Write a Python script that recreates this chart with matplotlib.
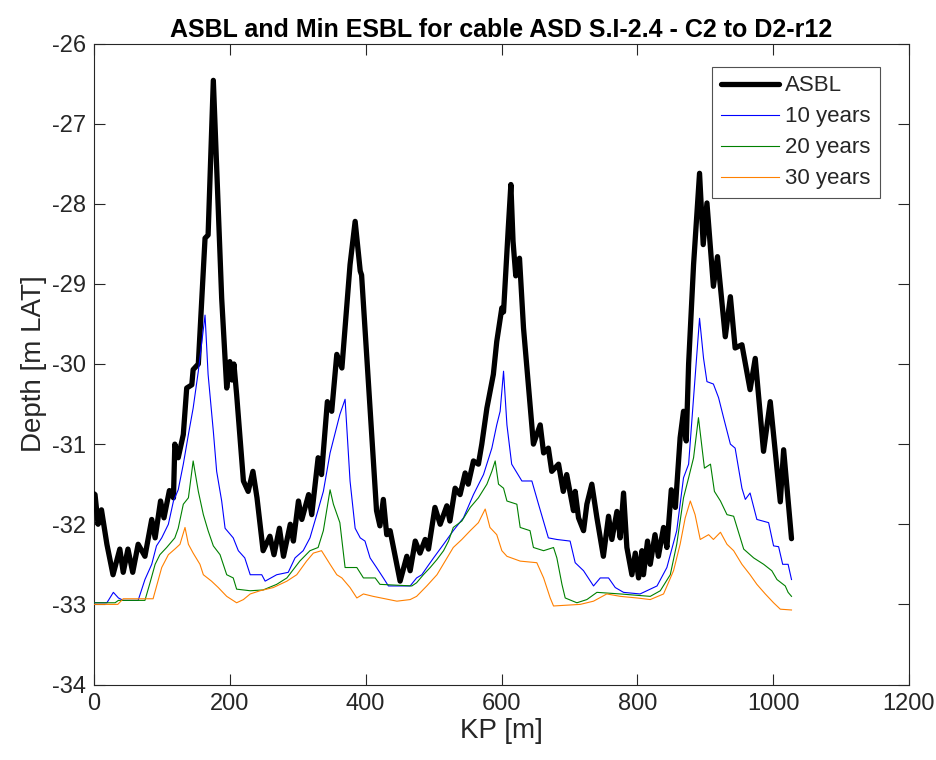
import matplotlib
matplotlib.use("Agg")
import matplotlib.pyplot as plt
from matplotlib import font_manager

names = {f.name for f in font_manager.fontManager.ttflist}
fam = 'Liberation Sans' if 'Liberation Sans' in names else 'DejaVu Sans'
plt.rcParams['font.family'] = [fam, 'DejaVu Sans']

title = "ASBL and Min ESBL for cable ASD S.I-2.4 - C2 to D2-r12"
xlabel = "KP [m]"
ylabel = "Depth [m LAT]"
series_names = ["ASBL", "10 years", "20 years", "30 years"]
xticks = [0, 200, 400, 600, 800, 1000, 1200]
yticks = [-34, -33, -32, -31, -30, -29, -28, -27, -26]

asbl_kp = [0, 1.5, 6, 11, 19, 28, 38, 43, 50, 57, 65, 75, 85, 90, 98, 103, 111, 117, 119, 124,
           131.5, 136.5, 144, 146, 153.6, 163.5, 168, 175.7, 188, 195.4, 200, 203, 206, 210,
           220, 227, 234, 240, 249, 259, 265, 273, 279, 289, 293.6, 301, 306, 316, 320.6, 330,
           335, 343.6, 350, 357.5, 365, 377, 384.5, 392, 394, 416, 421, 426, 431, 436, 443,
           450.7, 460.6, 465.5, 473, 480, 487.6, 492.5, 502, 509.7, 519.5, 524, 531.7, 539,
           546.5, 551, 558.7, 566, 571, 578.5, 588, 593, 600.5, 603, 610, 613.8, 617, 621,
           626.5, 632.4, 647, 657, 662, 669, 674, 684, 691, 696, 706, 708.5, 713.4, 720.8,
           725.7, 733, 740.5, 750, 757.6, 762.5, 770, 774.8, 779.7, 784.6, 792, 797, 801.8,
           806.8, 809, 815, 819, 826, 831, 838.6, 843.5, 850, 856, 863, 868, 872, 875.5,
           882.8, 891.6, 897, 902.5, 912, 918, 929.5, 937, 944, 954, 966, 973.6, 985.8,
           995.7, 1010.5, 1015.4, 1027]
asbl_depth = [-31.62, -31.63, -32.0, -31.82, -32.25, -32.63, -32.31, -32.6, -32.31, -32.6, -32.25,
              -32.4, -31.94, -32.17, -31.71, -31.92, -31.58, -31.67, -31.0, -31.17, -30.88,
              -30.3, -30.26, -30.07, -30.0, -28.43, -28.39, -26.46, -29.18, -30.3, -29.97,
              -30.2, -30.0, -30.38, -31.46, -31.59, -31.34, -31.67, -32.33, -32.15, -32.38,
              -32.05, -32.4, -32.0, -32.21, -31.71, -31.94, -31.63, -31.88, -31.17, -31.38,
              -30.47, -30.59, -29.88, -30.05, -28.76, -28.22, -28.84, -28.89, -31.83, -32.02,
              -31.69, -32.13, -32.08, -32.38, -32.71, -32.4, -32.58, -32.21, -32.36, -32.19,
              -32.31, -31.79, -32.0, -31.77, -31.96, -31.55, -31.63, -31.36, -31.5, -31.21,
              -31.25, -31.0, -30.55, -30.13, -29.72, -29.3, -29.35, -28.3, -27.76, -28.47,
              -28.9, -28.68, -29.55, -31.0, -30.76, -31.11, -31.05, -31.34, -31.25, -31.59,
              -31.38, -31.83, -31.59, -31.92, -32.08, -31.75, -31.5, -31.92, -32.4, -31.9,
              -32.19, -31.84, -32.17, -31.61, -32.29, -32.63, -32.36, -32.67, -32.33, -32.63,
              -32.21, -32.5, -32.13, -32.4, -32.04, -32.29, -31.57, -31.79, -30.92, -30.59,
              -30.96, -30.0, -28.76, -27.62, -28.51, -27.99, -29.03, -28.66, -29.66, -29.16,
              -29.8, -29.76, -30.32, -29.93, -31.09, -30.47, -31.72, -31.07, -32.18]

y10_kp = [0, 19, 28.5, 36, 43, 65, 75, 85, 92, 99.7, 109.5, 117, 124, 131.5, 139, 146, 153.6,
          163.5, 168, 175.7, 180.6, 188, 193, 205, 212.5, 222, 230, 247, 252, 269, 286, 296,
          308, 318, 328, 337.7, 347.6, 362, 369.7, 377, 384.5, 392, 399, 406.5, 416, 426,
          433.5, 465.5, 475, 482.7, 490, 500, 514.7, 529, 544, 558.7, 573.5, 585.8, 593, 598,
          603, 608, 615, 630, 644.7, 654.5, 669, 681.5, 701, 708.5, 720.8, 735.5, 745.4,
          757.6, 767.5, 779.7, 804, 814, 829, 843.5, 858, 868, 875.5, 882.8, 891.6, 897.5,
          902.5, 912, 919.6, 927, 937, 944, 954, 959, 966, 976, 993.3, 1000.6, 1008, 1014,
          1022, 1027]
y10_depth = [-32.98, -32.98, -32.85, -32.92, -32.95, -32.95, -32.69, -32.5, -32.27, -32.17, -32.0,
             -31.71, -31.57, -31.25, -30.88, -30.55, -30.09, -29.39, -30.13, -30.84, -31.34,
             -31.71, -32.05, -32.17, -32.33, -32.42, -32.63, -32.63, -32.71, -32.63, -32.6,
             -32.42, -32.33, -32.17, -31.88, -31.59, -31.11, -30.63, -30.44, -31.46, -32.05,
             -32.17, -32.21, -32.42, -32.54, -32.67, -32.77, -32.77, -32.67, -32.63, -32.54,
             -32.42, -32.25, -32.08, -31.92, -31.63, -31.38, -31.05, -30.76, -30.59, -30.09,
             -30.76, -31.25, -31.46, -31.46, -31.75, -32.17, -32.19, -32.21, -32.48, -32.58,
             -32.77, -32.67, -32.67, -32.79, -32.85, -32.87, -32.83, -32.77, -32.54, -32.08,
             -31.42, -31.25, -30.42, -29.43, -29.93, -30.22, -30.25, -30.42, -30.67, -31.0,
             -31.05, -31.55, -31.69, -31.61, -31.94, -31.98, -32.27, -32.28, -32.5, -32.5,
             -32.69]

y20_kp = [0, 31, 36, 75, 82.5, 90, 97, 107, 119, 124, 131.5, 139, 146, 153.6, 161, 168, 175.7,
          185.6, 195.4, 205, 210, 230, 249, 269, 284, 303, 318, 330, 337.7, 347.6, 352.5, 362,
          369.7, 387, 396.7, 414, 421, 468, 475, 485, 495, 505, 514.7, 522, 529, 541.6, 554,
          566, 578.5, 585.8, 590.7, 595.6, 603, 608, 622.6, 627.5, 642, 647, 662, 676.6,
          681.5, 689, 693.8, 711, 725.7, 740.5, 775, 819, 833.8, 848.5, 858, 868, 875.5,
          882.8, 890, 898.8, 907.7, 913.5, 922.4, 932, 941.8, 956.6, 971.3, 986, 998, 1005.6,
          1017.8, 1022, 1027]
y20_depth = [-32.98, -32.98, -32.95, -32.95, -32.73, -32.5, -32.38, -32.29, -32.17, -32.05, -31.75,
             -31.67, -31.21, -31.59, -31.88, -32.08, -32.27, -32.38, -32.63, -32.67, -32.81,
             -32.83, -32.82, -32.75, -32.67, -32.46, -32.33, -32.29, -32.08, -31.57, -31.75,
             -31.98, -32.54, -32.54, -32.67, -32.67, -32.75, -32.77, -32.73, -32.63, -32.54,
             -32.44, -32.33, -32.21, -32.04, -31.96, -31.79, -31.67, -31.5, -31.34, -31.21,
             -31.5, -31.55, -31.71, -31.75, -32.04, -32.08, -32.29, -32.33, -32.29, -32.42,
             -32.75, -32.92, -32.98, -32.94, -32.85, -32.87, -32.9, -32.83, -32.63, -32.25,
             -31.67, -31.42, -31.17, -30.67, -31.3, -31.25, -31.59, -31.71, -31.88, -31.9,
             -32.31, -32.42, -32.5, -32.58, -32.69, -32.77, -32.85, -32.9]

y30_kp = [0, 35, 43, 87, 99.7, 109.5, 119, 126.6, 134, 139, 146, 156, 161, 173, 183, 195.4, 210,
          220, 230, 244.5, 264, 284, 298.5, 313, 323, 335, 347.6, 357.5, 365, 377, 387, 396.7,
          411, 446, 465.5, 475, 490, 505, 517, 529, 541.6, 554, 566, 576, 583, 593, 600.5,
          608, 627.5, 652, 662, 671.7, 676.6, 716, 735.5, 755, 775, 799.5, 819, 838.6, 853.3,
          863, 870.5, 878, 885, 892.6, 905, 912, 922.4, 932, 941.8, 954, 966, 976, 988.4,
          1000.6, 1010.5, 1027]
y30_depth = [-33.0, -33.0, -32.93, -32.93, -32.54, -32.38, -32.31, -32.25, -32.04, -32.25, -32.36,
             -32.5, -32.63, -32.71, -32.79, -32.9, -32.98, -32.94, -32.87, -32.83, -32.79,
             -32.71, -32.63, -32.46, -32.36, -32.33, -32.5, -32.63, -32.67, -32.79, -32.92,
             -32.87, -32.9, -32.96, -32.94, -32.9, -32.77, -32.63, -32.46, -32.29, -32.19,
             -32.08, -31.98, -31.81, -32.04, -32.13, -32.33, -32.4, -32.46, -32.48, -32.67,
             -32.92, -33.02, -33.0, -32.96, -32.87, -32.9, -32.92, -32.94, -32.87, -32.58,
             -32.25, -31.92, -31.71, -31.88, -32.19, -32.13, -32.19, -32.1, -32.25, -32.33,
             -32.5, -32.63, -32.75, -32.87, -32.98, -33.06, -33.07]

fig = plt.figure(figsize=(9.36, 7.6), dpi=100)
ax = fig.add_axes([94/936, 1-684.5/760, 815/936, 641/760])

ax.plot(asbl_kp, asbl_depth, color='black', lw=3.8, solid_joinstyle='round',
        solid_capstyle='round', label=series_names[0], zorder=3)
ax.plot(y10_kp, y10_depth, color='#0000FF', lw=0.8, label=series_names[1], zorder=4)
ax.plot(y20_kp, y20_depth, color='#008000', lw=0.8, label=series_names[2], zorder=4)
ax.plot(y30_kp, y30_depth, color='#FF8000', lw=0.8, label=series_names[3], zorder=4)

ax.set_xlim(0, 1200)
ax.set_ylim(-34, -26)
ax.set_xticks(xticks)
ax.set_yticks(yticks)
ax.set_xticklabels([str(v) for v in xticks])
ax.set_yticklabels([str(v) for v in yticks])
tc = '#262626'
ax.tick_params(direction='in', length=8, width=0.8, colors=tc, labelsize=17,
               top=True, right=True, pad=6)
for s in ax.spines.values():
    s.set_color(tc)
    s.set_linewidth(0.8)

ax.set_xlabel(xlabel, fontsize=20, color=tc, labelpad=2)
ax.set_ylabel(ylabel, fontsize=20, color=tc, labelpad=3)
ax.set_title(title, fontsize=18, fontweight='bold', color='black', pad=5)

leg = ax.legend(loc='upper right', bbox_to_anchor=(0.964, 0.964), borderaxespad=0,
                fontsize=16, frameon=True, fancybox=False, edgecolor=tc,
                handlelength=2.6, handletextpad=0.3, labelspacing=0.45, borderpad=0.4)
leg.get_frame().set_linewidth(0.8)
for t in leg.get_texts():
    t.set_color(tc)

fig.savefig('out.png', dpi=100, facecolor='white')
